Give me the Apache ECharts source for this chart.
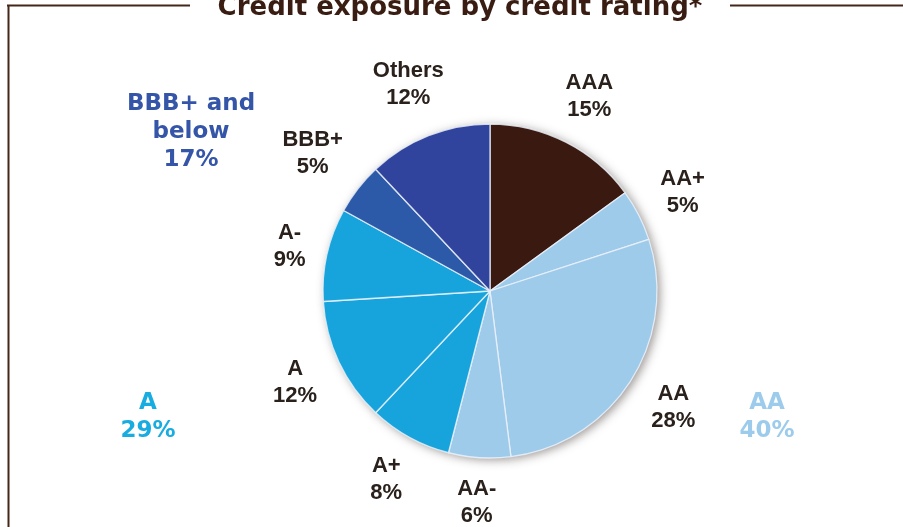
<!DOCTYPE html>
<html>
<head>
<meta charset="utf-8">
<title>Credit exposure by credit rating</title>
<script src="https://cdn.jsdelivr.net/npm/echarts@6/dist/echarts.min.js"></script>
<style>
  html, body { margin: 0; padding: 0; background: #ffffff; }
  #chart { width: 903px; height: 527px; }
</style>
</head>
<body>
<div id="chart"></div>
<script>
// Portfolio split by rating, clockwise from 12 o'clock (percent of total)
const ratings = ['AAA', 'AA+', 'AA', 'AA-', 'A+', 'A', 'A-', 'BBB+', 'Others'];
const shares = [15, 5, 28, 6, 8, 12, 9, 5, 12];

// Rating buckets shown as summary captions
const groupNames = ['BBB+ and\nbelow', 'A', 'AA'];
const groupShares = [17, 29, 40];

const titleText = 'Credit exposure by credit rating*';

// Styling
const sliceColors = ['#3a1a10', '#9fcbeb', '#9fcbeb', '#9fcbeb', '#17a4dc', '#17a4dc', '#17a4dc', '#2c5aa8', '#30449d'];
const groupColors = ['#3556a8', '#19ace0', '#9ccbec'];
const frameColor = '#44261b';
const textDark = '#2a211c';

const CX = 490, CY = 291, R = 167;
const LABEL_EDGE = 184; // distance from centre to nearest edge of each label box

const total = shares.reduce((a, b) => a + b, 0);
const midAngles = [];
(function () {
  let acc = 0;
  shares.forEach(v => {
    midAngles.push(((acc + v / 2) / total) * Math.PI * 2);
    acc += v;
  });
})();

const pieData = ratings.map((name, i) => ({
  name: name,
  value: shares[i],
  itemStyle: { color: sliceColors[i] }
}));

const chart = echarts.init(document.getElementById('chart'), null, { renderer: 'canvas' });

const groupPos = [[191, 132], [148, 417], [767, 417]];

chart.setOption({
  backgroundColor: '#ffffff',
  animation: false,
  series: [
    {
      // soft drop shadow under the pie
      type: 'pie',
      silent: true,
      center: [CX, CY],
      radius: R,
      startAngle: 90,
      clockwise: true,
      label: { show: false },
      labelLine: { show: false },
      itemStyle: {
        shadowBlur: 10,
        shadowColor: 'rgba(60,50,45,0.5)',
        shadowOffsetX: 3,
        shadowOffsetY: 2
      },
      data: pieData,
      z: 1
    },
    {
      type: 'pie',
      center: [CX, CY],
      radius: R,
      startAngle: 90,
      clockwise: true,
      avoidLabelOverlap: false,
      itemStyle: {
        borderColor: 'rgba(236,242,250,0.85)',
        borderWidth: 1.3
      },
      label: {
        show: true,
        position: 'outside',
        formatter: '{b}\n{c}%',
        color: textDark,
        fontFamily: 'Liberation Sans, Arial, sans-serif',
        fontWeight: 'bold',
        fontSize: 22,
        lineHeight: 27,
        align: 'center'
      },
      labelLine: { show: false },
      labelLayout: function (params) {
        const a = midAngles[params.dataIndex];
        const s = Math.sin(a), c = Math.cos(a);
        const w = params.labelRect.width, h = params.labelRect.height;
        const d = LABEL_EDGE + (w / 2) * Math.abs(s) + (h / 2) * Math.abs(c);
        return {
          x: CX + d * s,
          y: CY - d * c,
          align: 'center',
          verticalAlign: 'middle'
        };
      },
      emphasis: { disabled: true },
      data: pieData,
      z: 2
    }
  ],
  graphic: [
    // frame
    { type: 'line', shape: { x1: 7, y1: 5.5, x2: 190, y2: 5.5 }, style: { stroke: frameColor, lineWidth: 2 }, silent: true },
    { type: 'line', shape: { x1: 730, y1: 5.5, x2: 903, y2: 5.5 }, style: { stroke: frameColor, lineWidth: 2 }, silent: true },
    { type: 'line', shape: { x1: 8.5, y1: 5, x2: 8.5, y2: 527 }, style: { stroke: frameColor, lineWidth: 2 }, silent: true },
    // title, partly running off the top edge
    {
      type: 'text', x: 460, y: 8, silent: true,
      style: {
        text: titleText, fill: '#3a1d12',
        font: 'bold 26px "DejaVu Sans", Verdana, sans-serif',
        align: 'center', verticalAlign: 'middle'
      }
    }
  ].concat(groupNames.map((g, i) => ({
    type: 'text', x: groupPos[i][0], y: groupPos[i][1], silent: true,
    style: {
      text: g + '\n' + groupShares[i] + '%',
      fill: groupColors[i],
      font: 'bold 23px "DejaVu Sans", Verdana, sans-serif',
      lineHeight: 28,
      align: 'center', verticalAlign: 'middle'
    }
  })))
});
</script>
</body>
</html>
